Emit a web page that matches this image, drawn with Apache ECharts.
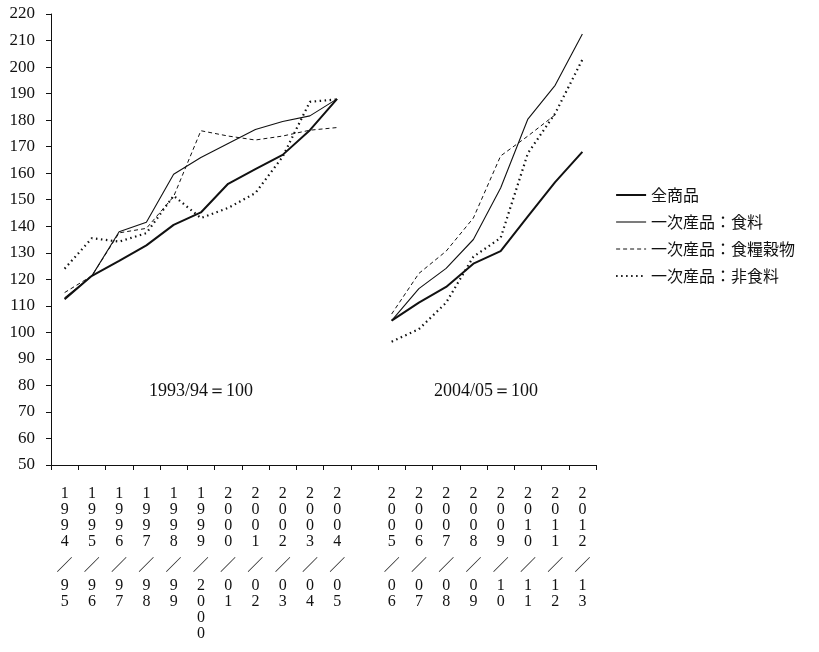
<!DOCTYPE html>
<html>
<head>
<meta charset="utf-8">
<script src="https://cdn.jsdelivr.net/npm/echarts@6/dist/echarts.min.js"></script>
<style>
html,body{margin:0;padding:0;background:#fff;}
#chart{width:819px;height:652px;}
</style>
</head>
<body>
<div id="chart"></div>
<script>
const categories = ['1994/95','1995/96','1996/97','1997/98','1998/99','1999/2000','2000/01','2001/02','2002/03','2003/04','2004/05','',
  '2005/06','2006/07','2007/08','2008/09','2009/10','2010/11','2011/12','2012/13'];
const seriesNames = ['全商品','一次産品：食料','一次産品：食糧穀物','一次産品：非食料'];
const allCommodities = [112.5,121.3,126.9,132.8,140.5,145.2,156.0,161.5,166.9,176.2,188.0,null,
  104.4,111.2,117.1,125.9,130.6,143.7,156.6,168.0];
const primaryFood = [113.0,121.3,137.9,141.5,159.6,165.9,171.2,176.5,179.5,181.6,188.0,null,
  104.4,116.5,124.1,135.0,154.4,180.4,193.1,212.5];
const primaryGrain = [115.0,121.3,137.5,139.2,151.2,176.0,174.0,172.5,174.0,176.2,177.2,null,
  106.9,122.2,130.6,143.1,166.5,174.0,182.0,null];
const primaryNonFood = [124.0,135.5,134.2,137.4,151.5,143.1,146.9,152.5,166.2,186.9,187.8,null,
  96.5,101.2,111.2,128.5,135.6,167.5,182.5,202.8];
const baseNotes = ['1993/94＝100','2004/05＝100'];

const serif = '"Liberation Serif", "DejaVu Serif", serif';
const cjk = '"Noto Sans CJK JP", "Noto Sans", sans-serif';
const ink = '#111';

const lineStyles = [
  {color:ink,width:2},
  {color:ink,width:1.1},
  {color:ink,width:1,type:[4,3]},
  {color:ink,width:2.2,type:[1.5,3.5]}
];

const chart = echarts.init(document.getElementById('chart'));
function fmtLabel(v){
  if(!v) return '';
  const p = v.split('/');
  return p[0].split('').join('\n') + '\n{s|／}\n' + p[1].split('').join('\n');
}
chart.setOption({
  animation:false,
  color:[ink,ink,ink,ink],
  grid:{left:51,right:223,top:14,bottom:187},
  legend:{
    orient:'vertical', left:610, top:182,
    itemWidth:30, itemHeight:14, itemGap:11,
    itemStyle:{opacity:0},
    textStyle:{fontFamily:cjk,fontSize:16,color:ink,lineHeight:16},
    data:seriesNames.map((n,i)=>({name:n,lineStyle:Object.assign({},lineStyles[i]),itemStyle:{opacity:0}}))
  },
  xAxis:{
    type:'category', data:categories, boundaryGap:true,
    axisLine:{lineStyle:{color:ink,width:1}},
    axisTick:{show:true,interval:0,length:5,lineStyle:{color:ink}},
    axisLabel:{interval:0,margin:21,formatter:fmtLabel,fontFamily:serif,fontSize:16,color:ink,lineHeight:15.8,
      rich:{s:{fontFamily:cjk,fontSize:16,lineHeight:29,color:ink}}},
    splitLine:{show:false}
  },
  yAxis:{
    type:'value', min:50, max:220, interval:10,
    axisLine:{show:true,lineStyle:{color:ink,width:1}},
    axisTick:{show:true,length:5,lineStyle:{color:ink}},
    axisLabel:{fontFamily:serif,fontSize:17,color:ink,margin:16},
    splitLine:{show:false}
  },
  graphic:[
    {type:'text',x:201,y:391,style:{text:baseNotes[0],fontFamily:serif,fontSize:18,fill:ink,align:'center',verticalAlign:'middle'}},
    {type:'text',x:486,y:391,style:{text:baseNotes[1],fontFamily:serif,fontSize:18,fill:ink,align:'center',verticalAlign:'middle'}}
  ],
  series:[
    {name:seriesNames[0],type:'line',data:allCommodities,symbol:'none',connectNulls:false,
      itemStyle:{color:ink},lineStyle:lineStyles[0]},
    {name:seriesNames[1],type:'line',data:primaryFood,symbol:'none',connectNulls:false,
      itemStyle:{color:ink},lineStyle:lineStyles[1]},
    {name:seriesNames[2],type:'line',data:primaryGrain,symbol:'none',connectNulls:false,
      itemStyle:{color:ink},lineStyle:lineStyles[2]},
    {name:seriesNames[3],type:'line',data:primaryNonFood,symbol:'none',connectNulls:false,
      itemStyle:{color:ink},lineStyle:lineStyles[3]}
  ]
});
</script>
</body>
</html>
